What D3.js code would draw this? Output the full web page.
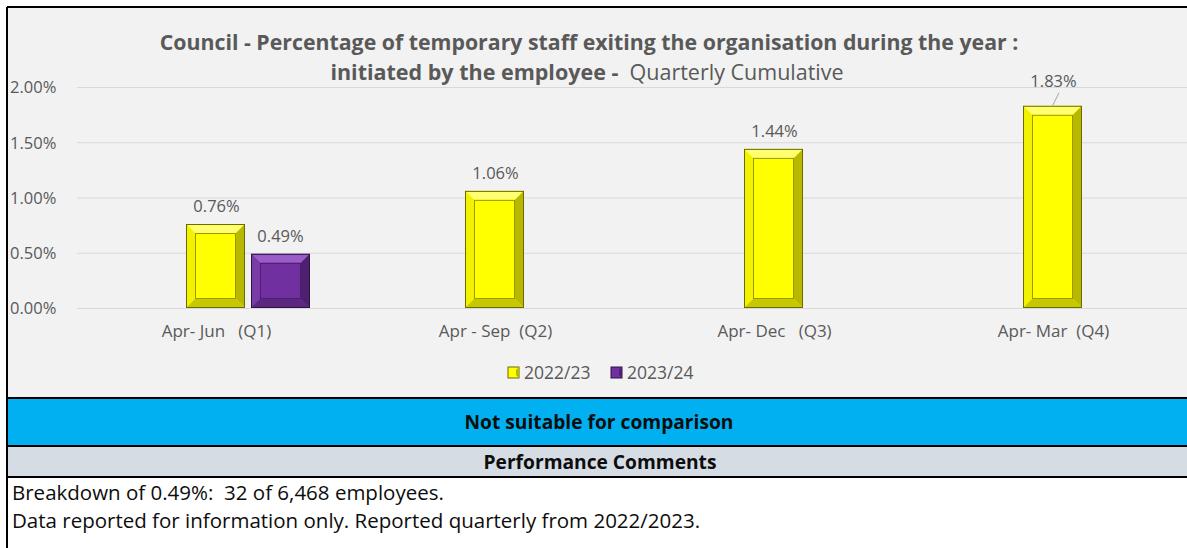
<!doctype html>
<html>
<head>
<meta charset="utf-8">
<script src="https://d3js.org/d3.v7.min.js"></script>
<style>
body {margin: 0; background: white;}
text {font-family: "Open Sans", "DejaVu Sans", sans-serif;}
</style>
</head>
<body>
<svg width="1187" height="548" class="chart"></svg>
<script>
// data
var categories = ["Apr- Jun   (Q1)", "Apr - Sep  (Q2)", "Apr- Dec   (Q3)", "Apr- Mar  (Q4)"];
var series2223 = [0.76, 1.06, 1.44, 1.83];
var series2324 = [0.49, null, null, null];
var seriesNames = ["2022/23", "2023/24"];
var yTicks = [0, 0.5, 1.0, 1.5, 2.0];
var comments = ["Breakdown of 0.49%:  32 of 6,468 employees.",
                "Data reported for information only. Reported quarterly from 2022/2023."];

var svg = d3.select(".chart"),
    W = 1187, H = 548;

var grey = "#595959";

// chart background + table rows
svg.append("rect").attr("x", 7).attr("y", 7).attr("width", W - 7).attr("height", 391).attr("fill", "#f2f2f2");
svg.append("rect").attr("x", 7).attr("y", 398).attr("width", W - 7).attr("height", 48).attr("fill", "#00b0f0");
svg.append("rect").attr("x", 7).attr("y", 446).attr("width", W - 7).attr("height", 31).attr("fill", "#d6dce4");

var xScale = d3.scaleBand().domain(categories).range([77, 1193]),
    yScale = d3.scaleLinear().domain([0, 2]).range([308, 87]);

// grid + y labels
var yAxis = svg.append("g")
    .attr("transform", "translate(77,0)")
    .call(d3.axisLeft(yScale).tickValues(yTicks).tickSize(-(W - 77)).tickFormat(function(d) { return d.toFixed(2) + "%"; }));
yAxis.select(".domain").remove();
yAxis.selectAll("line").attr("stroke", "#d9d9d9");
yAxis.selectAll("text")
    .attr("x", 10 - 77).attr("dy", "0.35em")
    .attr("text-anchor", "start")
    .attr("fill", grey).style("font-size", "16.5px");

// x labels
var xAxis = svg.append("g")
    .attr("transform", "translate(0,308)")
    .call(d3.axisBottom(xScale).tickSize(0));
xAxis.select(".domain").remove();
xAxis.selectAll("text")
    .attr("dy", "1.55em")
    .attr("fill", grey).style("font-size", "17px")
    .style("white-space", "pre");

var barW = 59;

function bevelBar(g, x, y0, y1, c) {
    var w = barW, h = y1 - y0, b = Math.min(9, h / 3);
    g.append("rect").attr("x", x).attr("y", y0).attr("width", w).attr("height", h).attr("fill", c.base);
    // top / left / right / bottom bevels
    g.append("polygon").attr("points", [[x, y0], [x + w, y0], [x + w - b, y0 + b], [x + b, y0 + b]].join(" ")).attr("fill", c.top);
    g.append("polygon").attr("points", [[x, y0], [x + b, y0 + b], [x + b, y1 - b], [x, y1]].join(" ")).attr("fill", c.left);
    g.append("polygon").attr("points", [[x + w, y0], [x + w, y1], [x + w - b, y1 - b], [x + w - b, y0 + b]].join(" ")).attr("fill", c.right);
    g.append("polygon").attr("points", [[x, y1], [x + w, y1], [x + w - b, y1 - b], [x + b, y1 - b]].join(" ")).attr("fill", c.bottom);
    g.append("rect").attr("x", x + b + 0.5).attr("y", y0 + b + 0.5).attr("width", w - 2 * b - 1).attr("height", h - 2 * b - 1)
        .attr("fill", c.base).attr("stroke", c.inner).attr("stroke-width", 1);
    g.append("rect").attr("x", x + 0.5).attr("y", y0 + 0.5).attr("width", w - 1).attr("height", h - 1)
        .attr("fill", "none").attr("stroke", c.edge).attr("stroke-width", 1);
}

var yellow = {base: "#ffff00", top: "#ffff70", left: "#f2f200", right: "#b8b800", bottom: "#c8c800", inner: "#9a9a00", edge: "#6b6b00"};
var purple = {base: "#7030a0", top: "#9a5cc6", left: "#7a3aa8", right: "#4f2070", bottom: "#5a2880", inner: "#4a1f6b", edge: "#2e1345"};

var bars = svg.append("g");
categories.forEach(function(cat, i) {
    var cx = xScale(cat) + xScale.bandwidth() / 2;
    var x1 = cx - barW / 2 - 1;
    var v = series2223[i];
    bevelBar(bars, x1, yScale(v), yScale(0), yellow);
    var labY = yScale(v) - 12;
    if (i === 3) {
        labY = yScale(v) - 19;
        bars.append("line").attr("x1", x1 + 36).attr("y1", labY + 6).attr("x2", x1 + 29).attr("y2", yScale(v) + 1)
            .attr("stroke", "#a6a6a6").attr("stroke-width", 1);
    }
    bars.append("text").attr("x", cx).attr("y", labY).attr("text-anchor", "middle")
        .attr("fill", grey).style("font-size", "16.5px").text(v.toFixed(2) + "%");
    var v2 = series2324[i];
    if (v2 != null) {
        var x2 = x1 + barW + 6;
        bevelBar(bars, x2, yScale(v2), yScale(0), purple);
        bars.append("text").attr("x", x2 + barW / 2).attr("y", yScale(v2) - 12).attr("text-anchor", "middle")
            .attr("fill", grey).style("font-size", "16.5px").text(v2.toFixed(2) + "%");
    }
});

// legend
var legend = svg.append("g");
[[508, yellow], [611, purple]].forEach(function(p, i) {
    var lx = p[0], c = p[1];
    legend.append("rect").attr("x", lx).attr("y", 367).attr("width", 11).attr("height", 11).attr("fill", c.base).attr("stroke", c.edge);
    legend.append("polygon").attr("points", [[lx + 8, 370], [lx + 11, 367], [lx + 11, 378], [lx + 8, 375]].join(" ")).attr("fill", c.right);
    legend.append("text").attr("x", lx + 16).attr("y", 379).attr("fill", grey).style("font-size", "17.5px").text(seriesNames[i]);
});

// title
var title = svg.append("g").attr("fill", grey);
title.append("text").attr("x", 589).attr("y", 50).attr("text-anchor", "middle")
    .style("font-size", "21.3px").style("font-weight", "bold")
    .text("Council - Percentage of temporary staff exiting the organisation during the year :");
var t2 = title.append("text").attr("x", 587).attr("y", 80).attr("text-anchor", "middle").style("font-size", "21.5px").style("white-space", "pre");
t2.append("tspan").style("font-weight", "bold").text("initiated by the employee -  ");
t2.append("tspan").text("Quarterly Cumulative");

// table rows
svg.append("text").attr("x", 599).attr("y", 429).attr("text-anchor", "middle")
    .style("font-size", "19.2px").style("font-weight", "bold").attr("fill", "#0d0d0d").text("Not suitable for comparison");
svg.append("text").attr("x", 600).attr("y", 469).attr("text-anchor", "middle")
    .style("font-size", "19.2px").style("font-weight", "bold").attr("fill", "#0d0d0d").text("Performance Comments");
comments.forEach(function(c, i) {
    svg.append("text").attr("x", 12).attr("y", 500 + i * 28).style("font-size", "20.5px").attr("fill", "#0d0d0d")
        .style("white-space", "pre").text(c);
});

// borders
var lines = [[7, 7, W, 7], [7, 7, 7, H], [7, 398, W, 398], [7, 446, W, 446], [7, 477, W, 477]];
svg.append("g").selectAll("line").data(lines).join("line")
    .attr("x1", function(d) { return d[0]; }).attr("y1", function(d) { return d[1]; })
    .attr("x2", function(d) { return d[2]; }).attr("y2", function(d) { return d[3]; })
    .attr("stroke", "#000").attr("stroke-width", 2);
</script>
</body>
</html>
